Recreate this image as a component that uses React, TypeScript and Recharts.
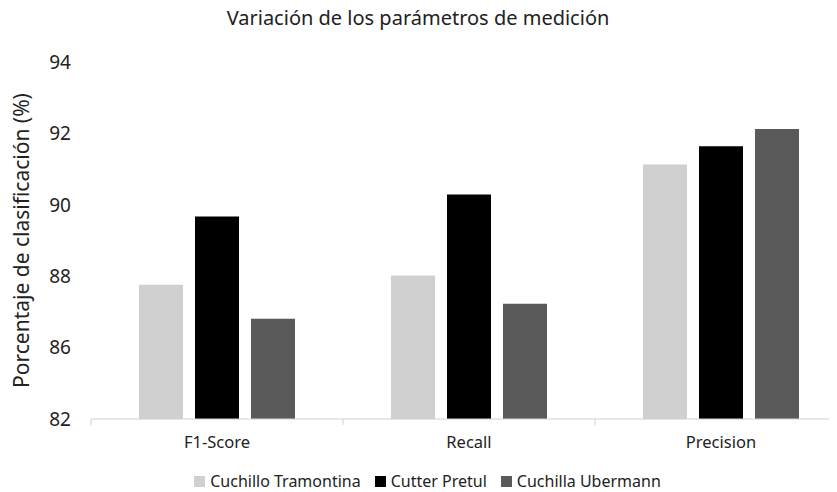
import React from "react";
import { BarChart, Bar, XAxis, YAxis, Legend, Label } from "recharts";

const categories = ["F1-Score", "Recall", "Precision"];
const tramontina = [87.76, 88.02, 91.13];
const pretul = [89.67, 90.29, 91.64];
const ubermann = [86.81, 87.23, 92.12];
const yTickValues = [84, 86, 88, 90, 92, 94];
const yTickLabels = ["82", "86", "88", "90", "92", "94"];
const seriesKeys = ["tramontina", "pretul", "ubermann"];
const seriesNames = ["Cuchillo Tramontina", "Cutter Pretul", "Cuchilla Ubermann"];
const seriesColors = ["#d0d0d0", "#000000", "#5a5a5a"];

const data = categories.map((c, i) => ({
  name: c,
  tramontina: tramontina[i],
  pretul: pretul[i],
  ubermann: ubermann[i],
}));

const FONT = "'Noto Sans', 'Open Sans', sans-serif";

const XTick = (props: any) => {
  const { x, y, payload } = props;
  const off = payload && payload.offset ? payload.offset : 0;
  return (
    <g>
      <line x1={x - off} x2={x - off} y1={y - 8} y2={y - 2} stroke="#d0d0d0" />
      <text x={x} y={y + 21} textAnchor="middle" fontSize={16.5} fill="#222" fontFamily={FONT}>
        {payload.value}
      </text>
    </g>
  );
};

const LegendContent = () => (
  <div
    style={{
      display: "flex",
      justifyContent: "center",
      alignItems: "center",
      fontSize: 16,
      color: "#222",
      fontFamily: FONT,
    }}
  >
    {seriesNames.map((n, i) => (
      <span key={n} style={{ display: "inline-flex", alignItems: "center", marginRight: i < 2 ? 14 : 0 }}>
        <span style={{ display: "inline-block", width: 11, height: 11, background: seriesColors[i], marginRight: 5 }} />
        {n}
      </span>
    ))}
  </div>
);

export default function App() {
  return (
    <div
      style={{
        position: "relative",
        width: 829,
        height: 492,
        marginTop: -8,
        overflow: "hidden",
        fontFamily: FONT,
      }}
    >
      <div
        style={{
          position: "absolute",
          left: 0,
          width: 820,
          top: 4,
          textAlign: "center",
          fontSize: 20,
          color: "#222",
          lineHeight: "28px",
        }}
      >
        Variación de los parámetros de medición
      </div>
      <BarChart
        width={860}
        height={492}
        data={data}
        margin={{ top: 62, right: 21, left: 0, bottom: 0 }}
        barCategoryGap={48}
        barGap={12}
      >
        <XAxis
          dataKey="name"
          stroke="#d0d0d0"
          tickLine={false}
          tick={<XTick />}
          height={51}
          interval={0}
        />
        <YAxis
          domain={[84, 94]}
          ticks={yTickValues}
          tickFormatter={(v: number) => yTickLabels[yTickValues.indexOf(v)]}
          axisLine={false}
          tickLine={false}
          tickMargin={14}
          width={83}
          tick={{ fontSize: 19, fill: "#222", fontFamily: FONT }}
        >
          <Label
            value="Porcentaje de clasificación (%)"
            angle={-90}
            position="insideLeft"
            offset={14}
            style={{ textAnchor: "middle", fontSize: 21, fill: "#222", fontFamily: FONT }}
          />
        </YAxis>
        <Legend verticalAlign="bottom" content={<LegendContent />} />
        {seriesKeys.map((k, i) => (
          <Bar key={k} dataKey={k} name={seriesNames[i]} fill={seriesColors[i]} isAnimationActive={false} />
        ))}
      </BarChart>
    </div>
  );
}
